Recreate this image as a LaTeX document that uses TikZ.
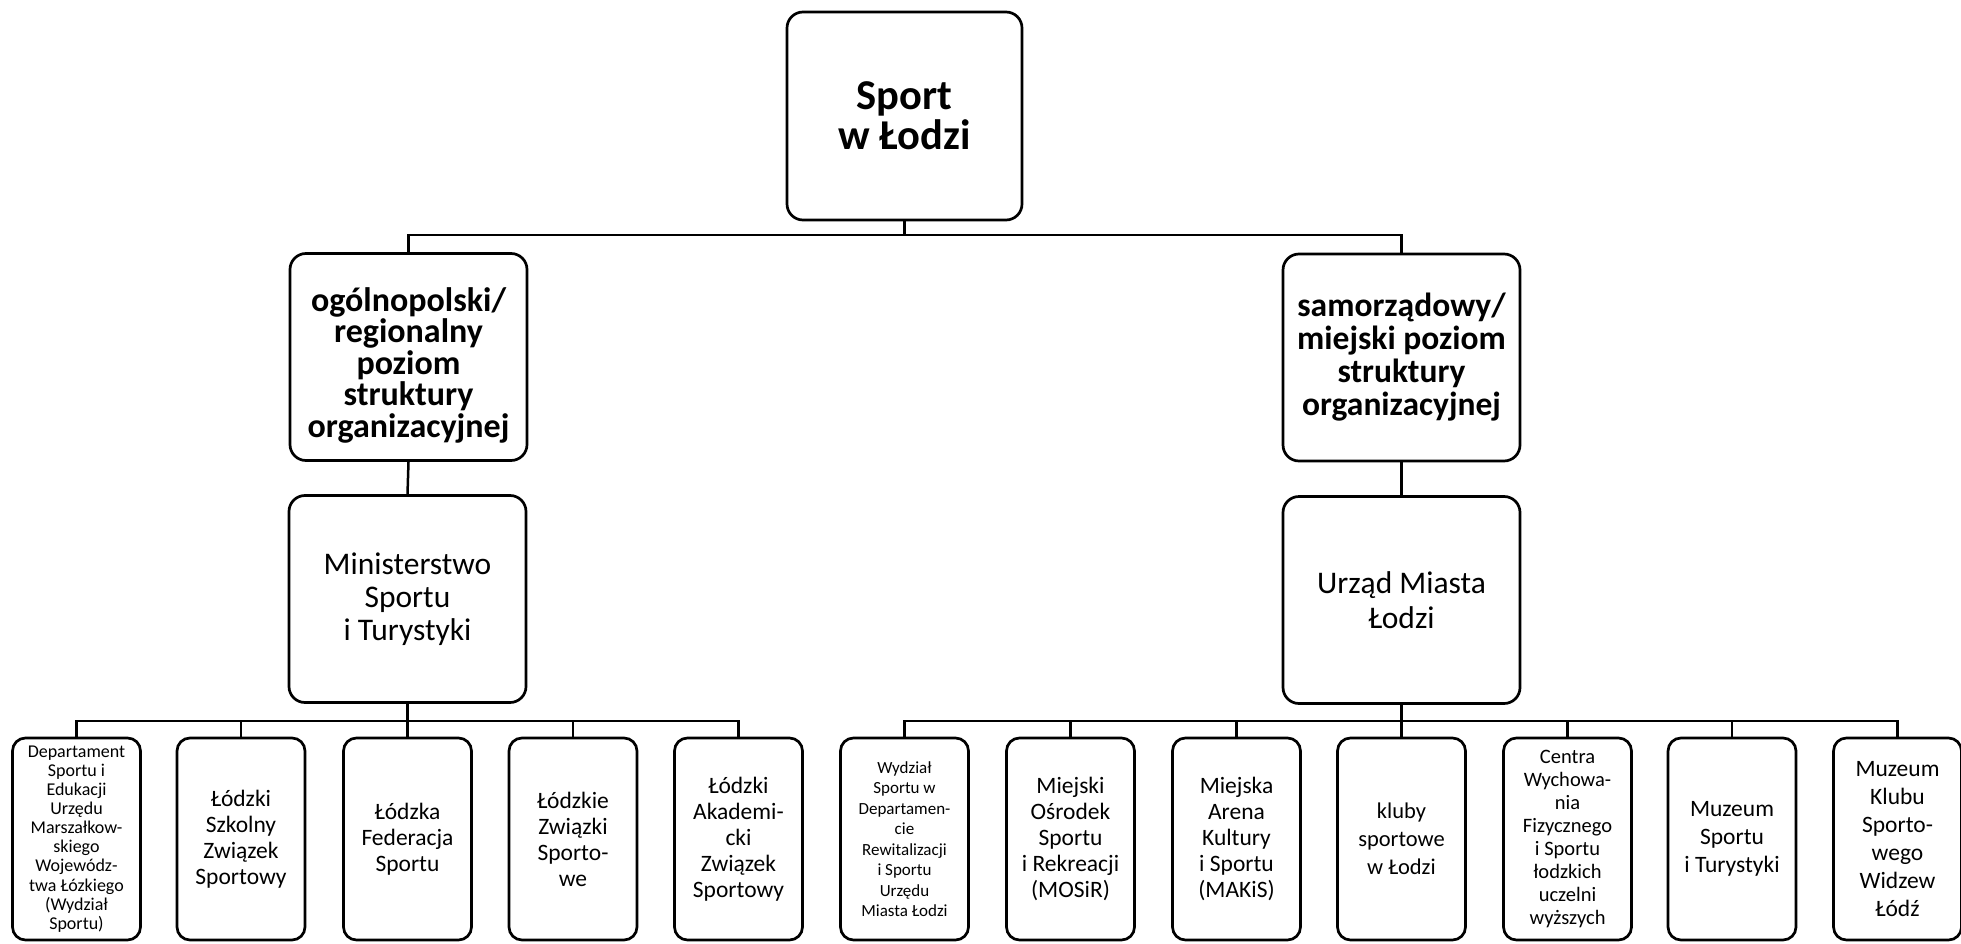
\documentclass[tikz,border=0pt]{standalone}
\usepackage{fontspec}
\setmainfont{Carlito}
\newcommand{\fs}[2]{\fontsize{#1}{#2}\selectfont\lineskiplimit=-1000pt\relax}
\begin{document}
\begin{tikzpicture}[x=1pt,y=-1pt,
  box/.style={draw, line width=2.7pt, rounded corners=16pt, align=center, inner sep=0pt},
  topbox/.style={box, minimum width=235pt, minimum height=208pt, font=\bfseries\fs{42.5}{40}},
  lvlL/.style={box, minimum width=237pt, minimum height=207pt, font=\bfseries\fs{34}{31.5}},
  lvlR/.style={box, minimum width=237pt, minimum height=207pt, font=\bfseries\fs{33.5}{33}},
  midbox/.style={box, minimum width=237pt, minimum height=207pt, font=\fs{31.5}{33}},
  leaf/.style={box, rounded corners=13pt, minimum width=128pt, minimum height=202pt, font=\fs{23.5}{26}},
  conn/.style={line width=2.5pt}
]
\useasboundingbox (0,0) rectangle (1961,944);

\node[topbox] (top) at (904.5,116) {Sport\\w Łodzi};
\node[lvlL] (l2a) at (408.5,357) {\rule{0pt}{40pt}ogólnopolski/\\regionalny\\poziom\\struktury\\organizacyjnej};
\node[lvlR] (l2b) at (1401.5,357.5) {samorządowy/\\miejski poziom\\struktury\\organizacyjnej};
\node[midbox] (l3a) at (407.5,599) {Ministerstwo\\Sportu\\i Turystyki};
\node[midbox, font=\fs{31.5}{35}] (l3b) at (1401.5,600) {Urząd Miasta\\Łodzi};

\node[leaf, font=\fs{18}{19.1}] (a1) at (76.5,839) {Departament\\Sportu i\\Edukacji\\Urzędu\\Marszałkow-\\skiego\\Wojewódz-\\twa Łózkiego\\(Wydział\\Sportu)};
\node[leaf] (a2) at (241,839) {Łódzki\\Szkolny\\Związek\\Sportowy};
\node[leaf] (a3) at (407.5,839) {Łódzka\\Federacja\\Sportu};
\node[leaf] (a4) at (573,839) {Łódzkie\\Związki\\Sporto-\\we};
\node[leaf] (a5) at (738.5,839) {Łódzki\\Akademi-\\cki\\Związek\\Sportowy};

\node[leaf, font=\fs{17}{20.5}] (b1) at (904.5,839) {Wydział\\Sportu w\\Departamen-\\cie\\Rewitalizacji\\i Sportu\\Urzędu\\Miasta Łodzi};
\node[leaf] (b2) at (1070.5,839) {Miejski\\Ośrodek\\Sportu\\i Rekreacji\\(MOSiR)};
\node[leaf] (b3) at (1236.5,839) {Miejska\\Arena\\Kultury\\i Sportu\\(MAKiS)};
\node[leaf, font=\fs{22.5}{28}] (b4) at (1401.5,839) {kluby\\sportowe\\w Łodzi};
\node[leaf, font=\fs{20.5}{23}] (b5) at (1567.5,839) {Centra\\Wychowa-\\nia\\Fizycznego\\i Sportu\\łodzkich\\uczelni\\wyższych};
\node[leaf, font=\fs{23.5}{28}] (b6) at (1732,839) {Muzeum\\Sportu\\i Turystyki};
\node[leaf, font=\fs{23.5}{28}] (b7) at (1897.5,839) {Muzeum\\Klubu\\Sporto-\\wego\\Widzew\\Łódź};

\coordinate (busT) at (904.5,235);
\coordinate (busL) at (407.5,721);
\coordinate (busR) at (1401.5,721);

\draw[conn] (top.south) -- (busT);
\draw[conn] (l2a.north) |- (busT) -| (l2b.north);
\draw[conn] (l2a.south) -- (l3a.north);
\draw[conn] (l2b.south) -- (l3b.north);

\draw[conn] (l3a.south) -- (busL);
\draw[conn] (a1.north) |- (busL) -| (a5.north);
\foreach \n in {a2,a3,a4} \draw[conn] (\n.north) -- (\n.north |- busL);

\draw[conn] (l3b.south) -- (busR);
\draw[conn] (b1.north) |- (busR) -| (b7.north);
\foreach \n in {b2,b3,b4,b5,b6} \draw[conn] (\n.north) -- (\n.north |- busR);
\end{tikzpicture}
\end{document}
